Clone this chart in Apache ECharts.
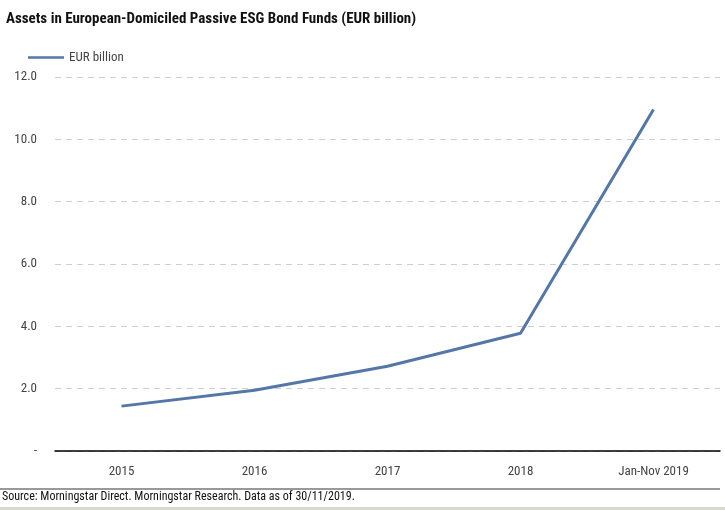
<!DOCTYPE html>
<html><head><meta charset="utf-8">
<script src="https://cdn.jsdelivr.net/npm/echarts@6/dist/echarts.min.js"></script>
<style>html,body{margin:0;padding:0;background:#fff}#c{width:725px;height:510px}</style>
</head><body><div id="c"></div>
<script>
const categories = ['2015', '2016', '2017', '2018', 'Jan-Nov 2019'];
const assets = [1.44, 1.95, 2.72, 3.78, 10.96];
const seriesName = 'EUR billion';
const titleText = 'Assets in European-Domiciled Passive ESG Bond Funds (EUR billion)';
const sourceText = 'Source: Morningstar Direct. Morningstar Research. Data as of 30/11/2019.';
const FONT = '"Liberation Sans Narrow", "Arial Narrow", "Roboto Condensed", "Liberation Sans", sans-serif';
const chart = echarts.init(document.getElementById('c'));
chart.setOption({
  animation: false,
  textStyle: { fontFamily: FONT },
  title: { text: titleText, left: 1, top: 7, textStyle: { fontFamily: FONT, fontWeight: 'bold', fontSize: 15, color: '#111' } },
  legend: { data: [seriesName], left: 23, top: 46, itemWidth: 36, itemHeight: 14, icon: 'path://M0,6L36,6L36,8.5L0,8.5Z', textStyle: { fontFamily: FONT, fontSize: 13, color: '#444' } },
  grid: { left: 55, right: 5, top: 77, bottom: 59 },
  xAxis: { type: 'category', data: categories, boundaryGap: true,
    axisLine: { lineStyle: { color: '#000', width: 1.5 } }, axisTick: { show: false },
    axisLabel: { color: '#444', fontSize: 13, margin: 14, fontFamily: FONT } },
  yAxis: { type: 'value', min: 0, max: 12, interval: 2,
    axisLine: { show: false }, axisTick: { show: false },
    axisLabel: { color: '#444', fontSize: 13, margin: 18, fontFamily: FONT, formatter: v => v === 0 ? '-' : v.toFixed(1) },
    splitLine: { lineStyle: { color: '#cfcfcf', type: [6, 5], width: 1 } } },
  series: [{ name: seriesName, type: 'line', data: assets, symbol: 'none',
    lineStyle: { color: '#5577a8', width: 3 }, itemStyle: { color: '#5577a8' } }],
  graphic: [
    { type: 'line', shape: { x1: 0, y1: 489, x2: 720, y2: 489 }, style: { stroke: '#777', lineWidth: 1.5 } },
    { type: 'text', left: 2, top: 491, style: { text: sourceText, font: '12px ' + FONT, fill: '#111' } },
    { type: 'rect', shape: { x: 0, y: 507, width: 725, height: 3 }, style: { fill: '#d8d8cc' } }
  ]
});
</script></body></html>
